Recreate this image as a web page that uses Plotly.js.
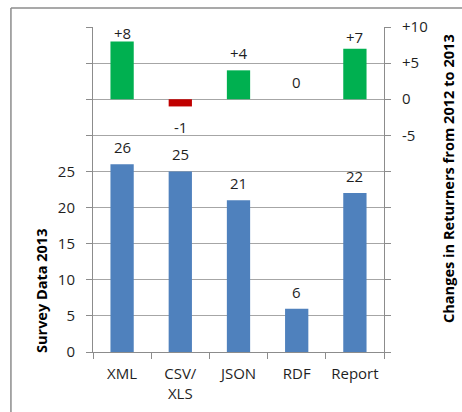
<!DOCTYPE html>
<html>
<head>
<meta charset="utf-8">
<script src="https://cdn.plot.ly/plotly-3.0.1.min.js"></script>
<style>
  html, body { margin: 0; padding: 0; background: #ffffff; }
  #chart { width: 462px; height: 412px; }
</style>
</head>
<body>
<div id="chart"></div>
<script>
// ---- data ----
const categories = ["XML", "CSV/<br>XLS", "JSON", "RDF", "Report"];
const survey2013 = [26, 25, 21, 6, 22];
const changes = [8, -1, 4, 0, 7];
const changeLabels = ["+8", "-1", "+4", "0", "+7"];
const leftTickVals = [0, 5, 10, 15, 20, 25, 30, 35, 40, 45];
const leftTickText = ["0", "5", "10", "15", "20", "25", "", "", "", ""];
const rightTickVals = [-35, -30, -25, -20, -15, -10, -5, 0, 5, 10];
const rightTickText = ["", "", "", "", "", "", "-5", "0", "+5", "+10"];
const leftTitle = "Survey Data 2013";
const rightTitle = "Changes in Returners from 2012 to 2013";

// ---- style ----
const FONT = "Open Sans, Noto Sans, sans-serif";
const TXT = "#1f1f1f";
const AX = "#8c8c8c";
const GRID = "#a6a6a6";
const BLUE = "#4f81bd";
const GREEN = "#00b050";
const RED = "#c00000";

const traces = [
  {
    type: "bar", x: categories, y: survey2013, xaxis: "x", yaxis: "y",
    width: 0.4, marker: { color: BLUE, line: { width: 0 } },
    hoverinfo: "skip"
  },
  {
    type: "bar", x: categories, y: changes, xaxis: "x", yaxis: "y2",
    width: 0.4,
    marker: { color: changes.map(v => v < 0 ? RED : GREEN), line: { width: 0 } },
    hoverinfo: "skip"
  }
];

// the top panel's labels are kept inside the panel (as the spreadsheet does)
const topLimit = 10;
const annotations = [];
survey2013.forEach((v, i) => {
  annotations.push({
    x: categories[i], y: v, xref: "x", yref: "y", text: String(v),
    showarrow: false, yshift: 17, font: { family: FONT, size: 15, color: TXT }
  });
});
changes.forEach((v, i) => {
  const shift = v < 0 ? -21 : Math.min(17, 17 - (v - 5.5) * 3.6);
  annotations.push({
    x: categories[i], y: v, xref: "x", yref: "y2", text: changeLabels[i],
    showarrow: false, yshift: v > 5.5 ? shift : (v < 0 ? -21 : 17),
    font: { family: FONT, size: 15, color: TXT }
  });
});
annotations.push({
  xref: "paper", yref: "paper", x: -0.175, y: 0.188, text: "<b>" + leftTitle + "</b>",
  textangle: -90, showarrow: false, font: { family: FONT, size: 14.5, color: "#000" },
  xanchor: "center", yanchor: "middle"
});
annotations.push({
  xref: "paper", yref: "paper", x: 1.22, y: 0.532, text: "<b>" + rightTitle + "</b>",
  textangle: -90, showarrow: false, font: { family: FONT, size: 14.6, color: "#000" },
  xanchor: "center", yanchor: "middle"
});

const layout = {
  width: 462, height: 412,
  margin: { l: 93, r: 78, t: 27, b: 60, pad: 0 },
  paper_bgcolor: "#ffffff", plot_bgcolor: "#ffffff",
  showlegend: false,
  barmode: "overlay",
  font: { family: FONT, size: 15, color: TXT },
  xaxis: {
    type: "category", showline: true, linecolor: AX, linewidth: 1,
    ticks: "outside", tickson: "boundaries", ticklen: 6, tickcolor: AX,
    showgrid: false, zeroline: false, ticklabelstandoff: 8,
    tickfont: { family: FONT, size: 15, color: TXT }, fixedrange: true
  },
  yaxis: {
    range: [0, 45], tickvals: leftTickVals, ticktext: leftTickText,
    showline: true, linecolor: AX, linewidth: 1, ticks: "outside", ticklen: 6,
    tickcolor: AX, showgrid: true, gridcolor: GRID, gridwidth: 1, zeroline: false,
    ticklabelstandoff: 8, tickfont: { family: FONT, size: 15, color: TXT }, fixedrange: true
  },
  yaxis2: {
    overlaying: "y", side: "right", range: [-35, topLimit],
    tickvals: rightTickVals, ticktext: rightTickText,
    showline: true, linecolor: AX, linewidth: 1, ticks: "outside", ticklen: 6,
    tickcolor: AX, showgrid: true, gridcolor: GRID, gridwidth: 1, zeroline: false,
    ticklabelstandoff: 8, tickfont: { family: FONT, size: 15, color: TXT }, fixedrange: true
  },
  annotations: annotations,
  shapes: [
    { type: "line", xref: "paper", yref: "paper", x0: -0.282, x1: 2, y0: 1.0585, y1: 1.0585,
      line: { color: "#8c8c8c", width: 1.5 } },
    { type: "line", xref: "paper", yref: "paper", x0: -0.282, x1: -0.282, y0: 1.0585, y1: -1,
      line: { color: "#8c8c8c", width: 1.5 } }
  ]
};

Plotly.newPlot("chart", traces, layout, { displayModeBar: false, staticPlot: true });
</script>
</body>
</html>
